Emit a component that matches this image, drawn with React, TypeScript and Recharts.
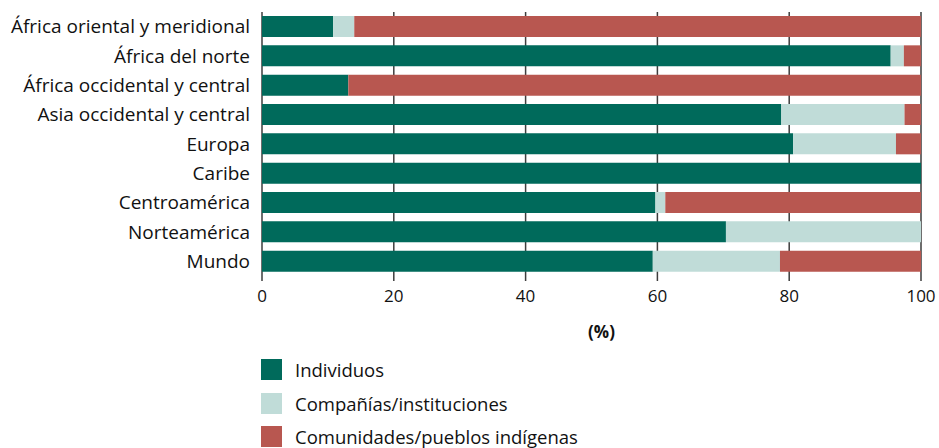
import { Bar, BarChart, CartesianGrid, XAxis, YAxis } from "recharts";

const GREEN = "#006a5b";
const LIGHT = "#c0dcd8";
const RED = "#b85750";
const GRID = "#3d3d3d";
const FONT = "'Open Sans', 'Noto Sans', sans-serif";

const regions = [
  "África oriental y meridional",
  "África del norte",
  "África occidental y central",
  "Asia occidental y central",
  "Europa",
  "Caribe",
  "Centroamérica",
  "Norteamérica",
  "Mundo",
];
const individuos = [10.8, 95.4, 13.1, 78.8, 80.6, 100, 59.7, 70.4, 59.3];
const companias = [3.2, 2.0, 0, 18.7, 15.6, 0, 1.5, 29.6, 19.3];
const comunidades = [86.0, 2.6, 86.9, 2.5, 3.8, 0, 38.8, 0, 21.4];
const xTicks = [0, 20, 40, 60, 80, 100];

const seriesNames = ["Individuos", "Compañías/instituciones", "Comunidades/pueblos indígenas"];
const seriesColors = [GREEN, LIGHT, RED];

const data = regions.map((r, i) => ({
  r,
  ind: individuos[i],
  comp: companias[i],
  com: comunidades[i],
}));

function LegendBox() {
  return (
    <div
      style={{
        position: "absolute",
        left: 261,
        top: 353,
        fontFamily: FONT,
        fontSize: 18.5,
        color: "#111",
      }}
    >
      {seriesNames.map((n, i) => (
        <div key={n} style={{ display: "flex", alignItems: "center", height: 33.5 }}>
          <span
            style={{
              width: 21,
              height: 21,
              background: seriesColors[i],
              display: "inline-block",
              marginRight: 13,
            }}
          />
          <span>{n}</span>
        </div>
      ))}
    </div>
  );
}

export default function App() {
  return (
    <div style={{ position: "absolute", left: 0, top: 0, width: 939, height: 448, background: "#fff" }}>
      <BarChart
        width={939}
        height={345}
        data={data}
        layout="vertical"
        margin={{ top: 12, right: 18, bottom: 9, left: 0 }}
        barSize={21}
      >
        <CartesianGrid vertical horizontal={false} stroke={GRID} strokeWidth={1.5} />
        <XAxis
          type="number"
          domain={[0, 100]}
          ticks={xTicks}
          axisLine={false}
          tickLine={{ stroke: GRID, strokeWidth: 1.5 }}
          tickSize={5}
          tickMargin={9}
          tick={{ fontSize: 17, fill: "#111", fontFamily: FONT }}
          height={60}
          label={{
            value: "(%)",
            position: "insideBottom",
            offset: -2,
            dx: 10,
            style: { fontSize: 17, fontWeight: 700, fill: "#111", fontFamily: FONT },
          }}
        />
        <YAxis
          type="category"
          dataKey="r"
          width={262}
          axisLine={false}
          tickLine={false}
          tickMargin={6}
          interval={0}
          tick={{ fontSize: 19, fill: "#111", fontFamily: FONT }}
        />
        <Bar dataKey="ind" stackId="a" fill={GREEN} isAnimationActive={false} />
        <Bar dataKey="comp" stackId="a" fill={LIGHT} isAnimationActive={false} />
        <Bar dataKey="com" stackId="a" fill={RED} isAnimationActive={false} />
      </BarChart>
      <LegendBox />
    </div>
  );
}
